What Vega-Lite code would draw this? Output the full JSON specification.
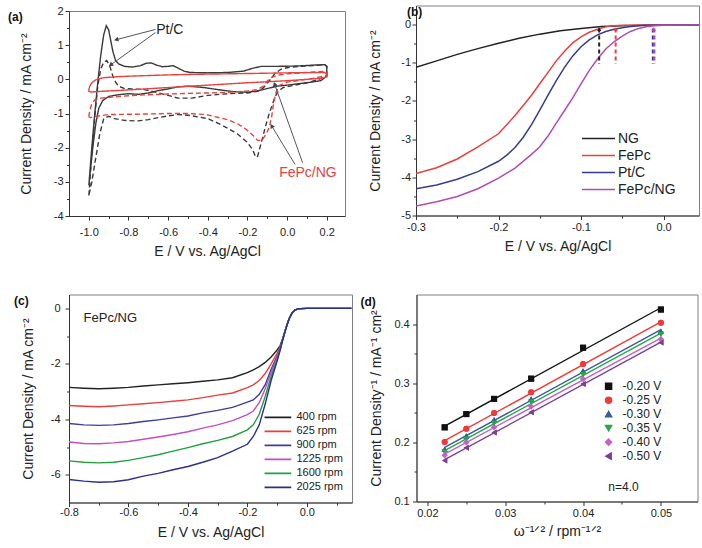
{
"$schema": "https://vega.github.io/schema/vega-lite/v6.json",
"padding": {"left": 7, "top": 4.5, "right": 0, "bottom": 0},
"background": "white",
"config": {
 "font": "Liberation Sans",
 "view": {"stroke": null},
 "axis": {"grid": false, "domainColor": "#333", "tickColor": "#333", "tickSize": 4, "labelFontSize": 11, "labelColor": "#222", "titleFontSize": 14, "titleFontWeight": "normal", "titleColor": "#222", "labelPadding": 3, "titlePadding": 8, "labelFlush": false, "labelOverlap": false},
 "legend": {"labelColor": "#222", "padding": 0}
},
"datasets": {
 "cv": [
  {"c":"PtN2","E":-1.0,"j":-3.1},{"c":"PtN2","E":-0.985,"j":-2.0},{"c":"PtN2","E":-0.97,"j":-1.0},{"c":"PtN2","E":-0.955,"j":-0.1},{"c":"PtN2","E":-0.94,"j":0.7},{"c":"PtN2","E":-0.925,"j":1.3},{"c":"PtN2","E":-0.912,"j":1.57},{"c":"PtN2","E":-0.9,"j":1.45},{"c":"PtN2","E":-0.89,"j":1.15},{"c":"PtN2","E":-0.878,"j":0.8},{"c":"PtN2","E":-0.865,"j":0.55},{"c":"PtN2","E":-0.85,"j":0.45},{"c":"PtN2","E":-0.82,"j":0.38},{"c":"PtN2","E":-0.78,"j":0.36},{"c":"PtN2","E":-0.74,"j":0.4},{"c":"PtN2","E":-0.71,"j":0.47},{"c":"PtN2","E":-0.685,"j":0.48},{"c":"PtN2","E":-0.66,"j":0.42},{"c":"PtN2","E":-0.63,"j":0.37},{"c":"PtN2","E":-0.6,"j":0.38},{"c":"PtN2","E":-0.575,"j":0.4},{"c":"PtN2","E":-0.55,"j":0.33},{"c":"PtN2","E":-0.52,"j":0.24},{"c":"PtN2","E":-0.49,"j":0.2},{"c":"PtN2","E":-0.4,"j":0.19},{"c":"PtN2","E":-0.3,"j":0.2},{"c":"PtN2","E":-0.22,"j":0.24},{"c":"PtN2","E":-0.17,"j":0.33},{"c":"PtN2","E":-0.13,"j":0.38},{"c":"PtN2","E":-0.05,"j":0.38},{"c":"PtN2","E":0.05,"j":0.39},{"c":"PtN2","E":0.15,"j":0.42},{"c":"PtN2","E":0.19,"j":0.43},{"c":"PtN2","E":0.2,"j":0.38},{"c":"PtN2","E":0.2,"j":0.1},{"c":"PtN2","E":0.17,"j":-0.04},{"c":"PtN2","E":0.1,"j":-0.1},{"c":"PtN2","E":0.0,"j":-0.17},{"c":"PtN2","E":-0.05,"j":-0.2},{"c":"PtN2","E":-0.1,"j":-0.27},{"c":"PtN2","E":-0.15,"j":-0.34},{"c":"PtN2","E":-0.2,"j":-0.38},{"c":"PtN2","E":-0.27,"j":-0.36},{"c":"PtN2","E":-0.35,"j":-0.3},{"c":"PtN2","E":-0.42,"j":-0.24},{"c":"PtN2","E":-0.5,"j":-0.2},{"c":"PtN2","E":-0.55,"j":-0.22},{"c":"PtN2","E":-0.6,"j":-0.28},{"c":"PtN2","E":-0.65,"j":-0.33},{"c":"PtN2","E":-0.7,"j":-0.4},{"c":"PtN2","E":-0.75,"j":-0.44},{"c":"PtN2","E":-0.8,"j":-0.42},{"c":"PtN2","E":-0.85,"j":-0.45},{"c":"PtN2","E":-0.9,"j":-0.5},{"c":"PtN2","E":-0.93,"j":-0.62},{"c":"PtN2","E":-0.95,"j":-0.85},{"c":"PtN2","E":-0.965,"j":-1.3},{"c":"PtN2","E":-0.98,"j":-2.0},{"c":"PtN2","E":-1.0,"j":-3.1},
  {"c":"PtO2","E":-1.0,"j":-3.4},{"c":"PtO2","E":-0.985,"j":-2.2},{"c":"PtO2","E":-0.97,"j":-1.1},{"c":"PtO2","E":-0.955,"j":-0.2},{"c":"PtO2","E":-0.94,"j":0.3},{"c":"PtO2","E":-0.925,"j":0.5},{"c":"PtO2","E":-0.91,"j":0.55},{"c":"PtO2","E":-0.895,"j":0.4},{"c":"PtO2","E":-0.88,"j":0.12},{"c":"PtO2","E":-0.865,"j":-0.08},{"c":"PtO2","E":-0.85,"j":-0.2},{"c":"PtO2","E":-0.82,"j":-0.27},{"c":"PtO2","E":-0.78,"j":-0.28},{"c":"PtO2","E":-0.72,"j":-0.3},{"c":"PtO2","E":-0.66,"j":-0.38},{"c":"PtO2","E":-0.6,"j":-0.47},{"c":"PtO2","E":-0.55,"j":-0.55},{"c":"PtO2","E":-0.48,"j":-0.55},{"c":"PtO2","E":-0.4,"j":-0.47},{"c":"PtO2","E":-0.3,"j":-0.42},{"c":"PtO2","E":-0.2,"j":-0.4},{"c":"PtO2","E":-0.15,"j":-0.35},{"c":"PtO2","E":-0.12,"j":-0.25},{"c":"PtO2","E":-0.09,"j":-0.05},{"c":"PtO2","E":-0.06,"j":0.18},{"c":"PtO2","E":-0.03,"j":0.3},{"c":"PtO2","E":0.0,"j":0.34},{"c":"PtO2","E":0.06,"j":0.38},{"c":"PtO2","E":0.15,"j":0.41},{"c":"PtO2","E":0.19,"j":0.43},{"c":"PtO2","E":0.2,"j":0.38},{"c":"PtO2","E":0.2,"j":0.1},{"c":"PtO2","E":0.15,"j":-0.02},{"c":"PtO2","E":0.1,"j":-0.1},{"c":"PtO2","E":0.03,"j":-0.18},{"c":"PtO2","E":-0.02,"j":-0.24},{"c":"PtO2","E":-0.045,"j":-0.35},{"c":"PtO2","E":-0.06,"j":-0.5},{"c":"PtO2","E":-0.075,"j":-0.75},{"c":"PtO2","E":-0.09,"j":-1.0},{"c":"PtO2","E":-0.11,"j":-1.4},{"c":"PtO2","E":-0.13,"j":-1.85},{"c":"PtO2","E":-0.15,"j":-2.28},{"c":"PtO2","E":-0.16,"j":-2.25},{"c":"PtO2","E":-0.175,"j":-2.05},{"c":"PtO2","E":-0.2,"j":-1.85},{"c":"PtO2","E":-0.25,"j":-1.6},{"c":"PtO2","E":-0.3,"j":-1.43},{"c":"PtO2","E":-0.35,"j":-1.28},{"c":"PtO2","E":-0.4,"j":-1.15},{"c":"PtO2","E":-0.5,"j":-1.05},{"c":"PtO2","E":-0.55,"j":-1.03},{"c":"PtO2","E":-0.6,"j":-1.07},{"c":"PtO2","E":-0.65,"j":-1.12},{"c":"PtO2","E":-0.7,"j":-1.18},{"c":"PtO2","E":-0.76,"j":-1.22},{"c":"PtO2","E":-0.82,"j":-1.2},{"c":"PtO2","E":-0.87,"j":-1.15},{"c":"PtO2","E":-0.9,"j":-1.08},{"c":"PtO2","E":-0.925,"j":-1.15},{"c":"PtO2","E":-0.945,"j":-1.6},{"c":"PtO2","E":-0.965,"j":-2.3},{"c":"PtO2","E":-0.985,"j":-3.0},{"c":"PtO2","E":-1.0,"j":-3.4},
  {"c":"FeN2","E":-1.0,"j":-0.3},{"c":"FeN2","E":-0.995,"j":-0.2},{"c":"FeN2","E":-0.985,"j":-0.1},{"c":"FeN2","E":-0.97,"j":-0.03},{"c":"FeN2","E":-0.95,"j":0.02},{"c":"FeN2","E":-0.92,"j":0.05},{"c":"FeN2","E":-0.85,"j":0.08},{"c":"FeN2","E":-0.76,"j":0.1},{"c":"FeN2","E":-0.6,"j":0.13},{"c":"FeN2","E":-0.43,"j":0.15},{"c":"FeN2","E":-0.2,"j":0.17},{"c":"FeN2","E":0.0,"j":0.19},{"c":"FeN2","E":0.15,"j":0.2},{"c":"FeN2","E":0.19,"j":0.2},{"c":"FeN2","E":0.2,"j":0.15},{"c":"FeN2","E":0.2,"j":0.07},{"c":"FeN2","E":0.17,"j":0.03},{"c":"FeN2","E":0.1,"j":0.0},{"c":"FeN2","E":0.0,"j":-0.04},{"c":"FeN2","E":-0.2,"j":-0.1},{"c":"FeN2","E":-0.43,"j":-0.18},{"c":"FeN2","E":-0.6,"j":-0.24},{"c":"FeN2","E":-0.8,"j":-0.31},{"c":"FeN2","E":-0.9,"j":-0.34},{"c":"FeN2","E":-0.96,"j":-0.36},{"c":"FeN2","E":-0.99,"j":-0.37},{"c":"FeN2","E":-1.0,"j":-0.35},{"c":"FeN2","E":-1.0,"j":-0.3},
  {"c":"FeO2","E":-1.0,"j":-1.1},{"c":"FeO2","E":-0.995,"j":-0.9},{"c":"FeO2","E":-0.985,"j":-0.72},{"c":"FeO2","E":-0.97,"j":-0.6},{"c":"FeO2","E":-0.94,"j":-0.55},{"c":"FeO2","E":-0.88,"j":-0.52},{"c":"FeO2","E":-0.8,"j":-0.48},{"c":"FeO2","E":-0.7,"j":-0.45},{"c":"FeO2","E":-0.6,"j":-0.43},{"c":"FeO2","E":-0.5,"j":-0.41},{"c":"FeO2","E":-0.4,"j":-0.4},{"c":"FeO2","E":-0.3,"j":-0.38},{"c":"FeO2","E":-0.2,"j":-0.34},{"c":"FeO2","E":-0.15,"j":-0.3},{"c":"FeO2","E":-0.12,"j":-0.2},{"c":"FeO2","E":-0.1,"j":-0.05},{"c":"FeO2","E":-0.08,"j":0.05},{"c":"FeO2","E":-0.05,"j":0.12},{"c":"FeO2","E":0.0,"j":0.16},{"c":"FeO2","E":0.1,"j":0.2},{"c":"FeO2","E":0.18,"j":0.23},{"c":"FeO2","E":0.2,"j":0.2},{"c":"FeO2","E":0.2,"j":0.12},{"c":"FeO2","E":0.15,"j":0.05},{"c":"FeO2","E":0.1,"j":0.0},{"c":"FeO2","E":0.0,"j":-0.08},{"c":"FeO2","E":-0.04,"j":-0.18},{"c":"FeO2","E":-0.057,"j":-0.4},{"c":"FeO2","E":-0.068,"j":-0.7},{"c":"FeO2","E":-0.078,"j":-1.1},{"c":"FeO2","E":-0.09,"j":-1.4},{"c":"FeO2","E":-0.107,"j":-1.62},{"c":"FeO2","E":-0.13,"j":-1.8},{"c":"FeO2","E":-0.15,"j":-1.78},{"c":"FeO2","E":-0.17,"j":-1.65},{"c":"FeO2","E":-0.207,"j":-1.46},{"c":"FeO2","E":-0.25,"j":-1.3},{"c":"FeO2","E":-0.3,"j":-1.18},{"c":"FeO2","E":-0.41,"j":-1.03},{"c":"FeO2","E":-0.5,"j":-1.0},{"c":"FeO2","E":-0.6,"j":-1.0},{"c":"FeO2","E":-0.76,"j":-1.02},{"c":"FeO2","E":-0.9,"j":-1.03},{"c":"FeO2","E":-0.96,"j":-1.08},{"c":"FeO2","E":-0.99,"j":-1.12},{"c":"FeO2","E":-1.0,"j":-1.1}
 ],
 "lsv": [
  {"s":"NG","E":-0.3,"j":-1.12},{"s":"NG","E":-0.275,"j":-0.95},{"s":"NG","E":-0.25,"j":-0.78},{"s":"NG","E":-0.225,"j":-0.63},{"s":"NG","E":-0.2,"j":-0.49},{"s":"NG","E":-0.175,"j":-0.36},{"s":"NG","E":-0.15,"j":-0.25},{"s":"NG","E":-0.125,"j":-0.16},{"s":"NG","E":-0.1,"j":-0.1},{"s":"NG","E":-0.075,"j":-0.05},{"s":"NG","E":-0.05,"j":-0.03},{"s":"NG","E":-0.025,"j":-0.02},{"s":"NG","E":0,"j":-0.02},{"s":"NG","E":0.05,"j":-0.02},
  {"s":"FePc","E":-0.3,"j":-3.9},{"s":"FePc","E":-0.275,"j":-3.75},{"s":"FePc","E":-0.25,"j":-3.52},{"s":"FePc","E":-0.225,"j":-3.2},{"s":"FePc","E":-0.2,"j":-2.86},{"s":"FePc","E":-0.18,"j":-2.38},{"s":"FePc","E":-0.17,"j":-2.12},{"s":"FePc","E":-0.16,"j":-1.85},{"s":"FePc","E":-0.15,"j":-1.55},{"s":"FePc","E":-0.14,"j":-1.25},{"s":"FePc","E":-0.13,"j":-0.95},{"s":"FePc","E":-0.12,"j":-0.7},{"s":"FePc","E":-0.11,"j":-0.48},{"s":"FePc","E":-0.1,"j":-0.32},{"s":"FePc","E":-0.09,"j":-0.2},{"s":"FePc","E":-0.08,"j":-0.12},{"s":"FePc","E":-0.07,"j":-0.06},{"s":"FePc","E":-0.06,"j":-0.03},{"s":"FePc","E":-0.05,"j":-0.02},{"s":"FePc","E":0.05,"j":-0.01},
  {"s":"Pt/C","E":-0.3,"j":-4.3},{"s":"Pt/C","E":-0.275,"j":-4.2},{"s":"Pt/C","E":-0.25,"j":-4.05},{"s":"Pt/C","E":-0.225,"j":-3.85},{"s":"Pt/C","E":-0.2,"j":-3.58},{"s":"Pt/C","E":-0.19,"j":-3.42},{"s":"Pt/C","E":-0.18,"j":-3.22},{"s":"Pt/C","E":-0.17,"j":-2.95},{"s":"Pt/C","E":-0.16,"j":-2.62},{"s":"Pt/C","E":-0.15,"j":-2.24},{"s":"Pt/C","E":-0.14,"j":-1.85},{"s":"Pt/C","E":-0.13,"j":-1.47},{"s":"Pt/C","E":-0.12,"j":-1.12},{"s":"Pt/C","E":-0.11,"j":-0.82},{"s":"Pt/C","E":-0.1,"j":-0.58},{"s":"Pt/C","E":-0.09,"j":-0.4},{"s":"Pt/C","E":-0.08,"j":-0.27},{"s":"Pt/C","E":-0.07,"j":-0.18},{"s":"Pt/C","E":-0.06,"j":-0.12},{"s":"Pt/C","E":-0.05,"j":-0.08},{"s":"Pt/C","E":-0.04,"j":-0.05},{"s":"Pt/C","E":-0.03,"j":-0.03},{"s":"Pt/C","E":-0.02,"j":-0.02},{"s":"Pt/C","E":0.05,"j":-0.01},
  {"s":"FePc/NG","E":-0.3,"j":-4.75},{"s":"FePc/NG","E":-0.275,"j":-4.64},{"s":"FePc/NG","E":-0.25,"j":-4.5},{"s":"FePc/NG","E":-0.225,"j":-4.3},{"s":"FePc/NG","E":-0.2,"j":-4.02},{"s":"FePc/NG","E":-0.18,"j":-3.76},{"s":"FePc/NG","E":-0.16,"j":-3.4},{"s":"FePc/NG","E":-0.15,"j":-3.2},{"s":"FePc/NG","E":-0.14,"j":-2.92},{"s":"FePc/NG","E":-0.13,"j":-2.58},{"s":"FePc/NG","E":-0.12,"j":-2.25},{"s":"FePc/NG","E":-0.11,"j":-1.92},{"s":"FePc/NG","E":-0.1,"j":-1.55},{"s":"FePc/NG","E":-0.09,"j":-1.2},{"s":"FePc/NG","E":-0.08,"j":-0.9},{"s":"FePc/NG","E":-0.07,"j":-0.64},{"s":"FePc/NG","E":-0.06,"j":-0.45},{"s":"FePc/NG","E":-0.05,"j":-0.3},{"s":"FePc/NG","E":-0.04,"j":-0.18},{"s":"FePc/NG","E":-0.03,"j":-0.1},{"s":"FePc/NG","E":-0.02,"j":-0.05},{"s":"FePc/NG","E":-0.01,"j":-0.03},{"s":"FePc/NG","E":0,"j":-0.02},{"s":"FePc/NG","E":0.05,"j":-0.01}
 ],
 "rde": [
  {"r":"400 rpm","E":-0.8,"j":-2.85},{"r":"400 rpm","E":-0.75,"j":-2.88},{"r":"400 rpm","E":-0.7,"j":-2.9},{"r":"400 rpm","E":-0.65,"j":-2.88},{"r":"400 rpm","E":-0.6,"j":-2.85},{"r":"400 rpm","E":-0.55,"j":-2.8},{"r":"400 rpm","E":-0.5,"j":-2.76},{"r":"400 rpm","E":-0.45,"j":-2.72},{"r":"400 rpm","E":-0.4,"j":-2.68},{"r":"400 rpm","E":-0.35,"j":-2.63},{"r":"400 rpm","E":-0.3,"j":-2.58},{"r":"400 rpm","E":-0.25,"j":-2.5},{"r":"400 rpm","E":-0.2,"j":-2.32},{"r":"400 rpm","E":-0.18,"j":-2.22},{"r":"400 rpm","E":-0.16,"j":-2.1},{"r":"400 rpm","E":-0.14,"j":-1.95},{"r":"400 rpm","E":-0.12,"j":-1.75},{"r":"400 rpm","E":-0.1,"j":-1.5},{"r":"400 rpm","E":-0.09,"j":-1.35},{"r":"400 rpm","E":-0.08,"j":-1.05},{"r":"400 rpm","E":-0.07,"j":-0.7},{"r":"400 rpm","E":-0.06,"j":-0.38},{"r":"400 rpm","E":-0.05,"j":-0.17},{"r":"400 rpm","E":-0.04,"j":-0.06},{"r":"400 rpm","E":-0.03,"j":-0.02},{"r":"400 rpm","E":-0.02,"j":-0.01},{"r":"400 rpm","E":0,"j":0},{"r":"400 rpm","E":0.15,"j":0},
  {"r":"625 rpm","E":-0.8,"j":-3.5},{"r":"625 rpm","E":-0.75,"j":-3.53},{"r":"625 rpm","E":-0.7,"j":-3.55},{"r":"625 rpm","E":-0.65,"j":-3.52},{"r":"625 rpm","E":-0.6,"j":-3.48},{"r":"625 rpm","E":-0.55,"j":-3.44},{"r":"625 rpm","E":-0.5,"j":-3.4},{"r":"625 rpm","E":-0.45,"j":-3.35},{"r":"625 rpm","E":-0.4,"j":-3.3},{"r":"625 rpm","E":-0.35,"j":-3.22},{"r":"625 rpm","E":-0.3,"j":-3.13},{"r":"625 rpm","E":-0.25,"j":-3.05},{"r":"625 rpm","E":-0.2,"j":-2.86},{"r":"625 rpm","E":-0.18,"j":-2.76},{"r":"625 rpm","E":-0.16,"j":-2.6},{"r":"625 rpm","E":-0.14,"j":-2.35},{"r":"625 rpm","E":-0.12,"j":-2.0},{"r":"625 rpm","E":-0.1,"j":-1.62},{"r":"625 rpm","E":-0.09,"j":-1.4},{"r":"625 rpm","E":-0.08,"j":-1.06},{"r":"625 rpm","E":-0.07,"j":-0.7},{"r":"625 rpm","E":-0.06,"j":-0.38},{"r":"625 rpm","E":-0.05,"j":-0.17},{"r":"625 rpm","E":-0.04,"j":-0.06},{"r":"625 rpm","E":-0.03,"j":-0.02},{"r":"625 rpm","E":-0.02,"j":-0.01},{"r":"625 rpm","E":0,"j":0},{"r":"625 rpm","E":0.15,"j":0},
  {"r":"900 rpm","E":-0.8,"j":-4.15},{"r":"900 rpm","E":-0.75,"j":-4.2},{"r":"900 rpm","E":-0.7,"j":-4.22},{"r":"900 rpm","E":-0.65,"j":-4.2},{"r":"900 rpm","E":-0.6,"j":-4.15},{"r":"900 rpm","E":-0.55,"j":-4.08},{"r":"900 rpm","E":-0.5,"j":-4.02},{"r":"900 rpm","E":-0.45,"j":-3.95},{"r":"900 rpm","E":-0.4,"j":-3.88},{"r":"900 rpm","E":-0.35,"j":-3.77},{"r":"900 rpm","E":-0.3,"j":-3.68},{"r":"900 rpm","E":-0.25,"j":-3.57},{"r":"900 rpm","E":-0.2,"j":-3.38},{"r":"900 rpm","E":-0.18,"j":-3.3},{"r":"900 rpm","E":-0.16,"j":-3.1},{"r":"900 rpm","E":-0.14,"j":-2.75},{"r":"900 rpm","E":-0.12,"j":-2.2},{"r":"900 rpm","E":-0.1,"j":-1.72},{"r":"900 rpm","E":-0.09,"j":-1.44},{"r":"900 rpm","E":-0.08,"j":-1.07},{"r":"900 rpm","E":-0.07,"j":-0.71},{"r":"900 rpm","E":-0.06,"j":-0.38},{"r":"900 rpm","E":-0.05,"j":-0.17},{"r":"900 rpm","E":-0.04,"j":-0.06},{"r":"900 rpm","E":-0.03,"j":-0.02},{"r":"900 rpm","E":-0.02,"j":-0.01},{"r":"900 rpm","E":0,"j":0},{"r":"900 rpm","E":0.15,"j":0},
  {"r":"1225 rpm","E":-0.8,"j":-4.82},{"r":"1225 rpm","E":-0.75,"j":-4.87},{"r":"1225 rpm","E":-0.7,"j":-4.88},{"r":"1225 rpm","E":-0.65,"j":-4.85},{"r":"1225 rpm","E":-0.6,"j":-4.8},{"r":"1225 rpm","E":-0.55,"j":-4.72},{"r":"1225 rpm","E":-0.5,"j":-4.64},{"r":"1225 rpm","E":-0.45,"j":-4.55},{"r":"1225 rpm","E":-0.4,"j":-4.45},{"r":"1225 rpm","E":-0.35,"j":-4.32},{"r":"1225 rpm","E":-0.3,"j":-4.2},{"r":"1225 rpm","E":-0.25,"j":-4.05},{"r":"1225 rpm","E":-0.2,"j":-3.83},{"r":"1225 rpm","E":-0.18,"j":-3.7},{"r":"1225 rpm","E":-0.16,"j":-3.4},{"r":"1225 rpm","E":-0.14,"j":-2.9},{"r":"1225 rpm","E":-0.12,"j":-2.3},{"r":"1225 rpm","E":-0.1,"j":-1.75},{"r":"1225 rpm","E":-0.09,"j":-1.46},{"r":"1225 rpm","E":-0.08,"j":-1.08},{"r":"1225 rpm","E":-0.07,"j":-0.71},{"r":"1225 rpm","E":-0.06,"j":-0.38},{"r":"1225 rpm","E":-0.05,"j":-0.17},{"r":"1225 rpm","E":-0.04,"j":-0.06},{"r":"1225 rpm","E":-0.03,"j":-0.02},{"r":"1225 rpm","E":-0.02,"j":-0.01},{"r":"1225 rpm","E":0,"j":0},{"r":"1225 rpm","E":0.15,"j":0},
  {"r":"1600 rpm","E":-0.8,"j":-5.5},{"r":"1600 rpm","E":-0.75,"j":-5.55},{"r":"1600 rpm","E":-0.7,"j":-5.57},{"r":"1600 rpm","E":-0.65,"j":-5.55},{"r":"1600 rpm","E":-0.6,"j":-5.48},{"r":"1600 rpm","E":-0.55,"j":-5.38},{"r":"1600 rpm","E":-0.5,"j":-5.28},{"r":"1600 rpm","E":-0.45,"j":-5.15},{"r":"1600 rpm","E":-0.4,"j":-5.02},{"r":"1600 rpm","E":-0.35,"j":-4.88},{"r":"1600 rpm","E":-0.3,"j":-4.76},{"r":"1600 rpm","E":-0.25,"j":-4.62},{"r":"1600 rpm","E":-0.2,"j":-4.38},{"r":"1600 rpm","E":-0.18,"j":-4.2},{"r":"1600 rpm","E":-0.16,"j":-3.82},{"r":"1600 rpm","E":-0.14,"j":-3.18},{"r":"1600 rpm","E":-0.12,"j":-2.45},{"r":"1600 rpm","E":-0.1,"j":-1.85},{"r":"1600 rpm","E":-0.09,"j":-1.5},{"r":"1600 rpm","E":-0.08,"j":-1.09},{"r":"1600 rpm","E":-0.07,"j":-0.72},{"r":"1600 rpm","E":-0.06,"j":-0.39},{"r":"1600 rpm","E":-0.05,"j":-0.17},{"r":"1600 rpm","E":-0.04,"j":-0.06},{"r":"1600 rpm","E":-0.03,"j":-0.02},{"r":"1600 rpm","E":-0.02,"j":-0.01},{"r":"1600 rpm","E":0,"j":0},{"r":"1600 rpm","E":0.15,"j":0},
  {"r":"2025 rpm","E":-0.8,"j":-6.17},{"r":"2025 rpm","E":-0.75,"j":-6.23},{"r":"2025 rpm","E":-0.7,"j":-6.27},{"r":"2025 rpm","E":-0.65,"j":-6.25},{"r":"2025 rpm","E":-0.6,"j":-6.18},{"r":"2025 rpm","E":-0.55,"j":-6.05},{"r":"2025 rpm","E":-0.5,"j":-5.95},{"r":"2025 rpm","E":-0.45,"j":-5.82},{"r":"2025 rpm","E":-0.4,"j":-5.7},{"r":"2025 rpm","E":-0.35,"j":-5.55},{"r":"2025 rpm","E":-0.3,"j":-5.38},{"r":"2025 rpm","E":-0.25,"j":-5.15},{"r":"2025 rpm","E":-0.2,"j":-4.9},{"r":"2025 rpm","E":-0.18,"j":-4.62},{"r":"2025 rpm","E":-0.16,"j":-4.2},{"r":"2025 rpm","E":-0.14,"j":-3.45},{"r":"2025 rpm","E":-0.12,"j":-2.6},{"r":"2025 rpm","E":-0.1,"j":-1.9},{"r":"2025 rpm","E":-0.09,"j":-1.52},{"r":"2025 rpm","E":-0.08,"j":-1.1},{"r":"2025 rpm","E":-0.07,"j":-0.72},{"r":"2025 rpm","E":-0.06,"j":-0.39},{"r":"2025 rpm","E":-0.05,"j":-0.17},{"r":"2025 rpm","E":-0.04,"j":-0.06},{"r":"2025 rpm","E":-0.03,"j":-0.02},{"r":"2025 rpm","E":-0.02,"j":-0.01},{"r":"2025 rpm","E":0,"j":0},{"r":"2025 rpm","E":0.15,"j":0}
 ],
 "kl": [
  {"p":"-0.20 V","w":0.02222,"inv":0.2254},{"p":"-0.20 V","w":0.025,"inv":0.2478},{"p":"-0.20 V","w":0.02857,"inv":0.2735},{"p":"-0.20 V","w":0.03333,"inv":0.3077},{"p":"-0.20 V","w":0.04,"inv":0.360},{"p":"-0.20 V","w":0.05,"inv":0.4246},
  {"p":"-0.25 V","w":0.02222,"inv":0.2008},{"p":"-0.25 V","w":0.025,"inv":0.2232},{"p":"-0.25 V","w":0.02857,"inv":0.2495},{"p":"-0.25 V","w":0.03333,"inv":0.2847},{"p":"-0.25 V","w":0.04,"inv":0.3323},{"p":"-0.25 V","w":0.05,"inv":0.4022},
  {"p":"-0.30 V","w":0.02222,"inv":0.1885},{"p":"-0.30 V","w":0.025,"inv":0.2109},{"p":"-0.30 V","w":0.02857,"inv":0.2383},{"p":"-0.30 V","w":0.03333,"inv":0.2735},{"p":"-0.30 V","w":0.04,"inv":0.3211},{"p":"-0.30 V","w":0.05,"inv":0.3882},
  {"p":"-0.35 V","w":0.02222,"inv":0.184},{"p":"-0.35 V","w":0.025,"inv":0.2053},{"p":"-0.35 V","w":0.02857,"inv":0.2321},{"p":"-0.35 V","w":0.03333,"inv":0.2679},{"p":"-0.35 V","w":0.04,"inv":0.3144},{"p":"-0.35 V","w":0.05,"inv":0.3827},
  {"p":"-0.40 V","w":0.02222,"inv":0.1784},{"p":"-0.40 V","w":0.025,"inv":0.1997},{"p":"-0.40 V","w":0.02857,"inv":0.2254},{"p":"-0.40 V","w":0.03333,"inv":0.2607},{"p":"-0.40 V","w":0.04,"inv":0.3071},{"p":"-0.40 V","w":0.05,"inv":0.3743},
  {"p":"-0.50 V","w":0.02222,"inv":0.1694},{"p":"-0.50 V","w":0.025,"inv":0.1907},{"p":"-0.50 V","w":0.02857,"inv":0.2165},{"p":"-0.50 V","w":0.03333,"inv":0.2511},{"p":"-0.50 V","w":0.04,"inv":0.2987},{"p":"-0.50 V","w":0.05,"inv":0.3687}
 ]
},
"spacing": 35,
"resolve": {"scale": {"color": "independent", "stroke": "independent", "shape": "independent", "strokeDash": "independent"}, "legend": {"color": "independent", "stroke": "independent", "shape": "independent", "strokeDash": "independent"}},
"vconcat": [
 {
  "hconcat": [
   {
    "vconcat": [
     {"width": 1, "height": 1, "data": {"values": []}, "mark": "point", "encoding": {}},
     {
      "width": 276, "height": 205,
      "view": {"stroke": "#808080"},
      "resolve": {"axis": {"x": "independent", "y": "independent"}},
      "layer": [
       {
        "data": {"name": "cv"},
        "mark": {"type": "line", "strokeWidth": 1.4},
        "encoding": {
         "x": {"field": "E", "type": "quantitative", "scale": {"domain": [-1.1, 0.292], "nice": false, "zero": false},
               "axis": {"values": [-1, -0.8, -0.6, -0.4, -0.2, 0, 0.2], "title": "E / V vs. Ag/AgCl", "labelPadding": 6, "titlePadding": 7, "labelExpr": "datum.value < 0 ? '-' + format(-datum.value, '.1f') : format(datum.value, '.1f')"}},
         "y": {"field": "j", "type": "quantitative", "scale": {"domain": [-4, 2], "nice": false, "zero": false},
               "axis": {"values": [-4, -3, -2, -1, 0, 1, 2], "title": "Current Density / mA cm⁻²", "labelPadding": 2, "titlePadding": 19.5, "labelExpr": "datum.value < 0 ? '-' + format(-datum.value, 'd') : format(datum.value, 'd')"}},
         "color": {"field": "c", "type": "nominal", "scale": {"domain": ["PtN2", "PtO2", "FeN2", "FeO2"], "range": ["#3a3a3a", "#3a3a3a", "#e8413e", "#e8413e"]}, "legend": null},
         "strokeDash": {"field": "c", "type": "nominal", "scale": {"domain": ["PtN2", "PtO2", "FeN2", "FeO2"], "range": [[1, 0], [5, 3], [1, 0], [5, 3]]}, "legend": null},
         "order": {"value": null}
        }
       },
       {
        "data": {"values": [
         {"x1": -0.664, "y1": 1.46, "x2": -0.862, "y2": 1.16},
         {"x1": -0.664, "y1": 1.37, "x2": -0.89, "y2": 0.42},
         {"x1": 0.04, "y1": -2.49, "x2": -0.078, "y2": -1.36},
         {"x1": 0.078, "y1": -2.44, "x2": -0.063, "y2": -0.14}
        ]},
        "mark": {"type": "rule", "color": "#555", "strokeWidth": 1},
        "encoding": {
         "x": {"field": "x1", "type": "quantitative", "axis": null},
         "y": {"field": "y1", "type": "quantitative", "axis": null},
         "x2": {"field": "x2"}, "y2": {"field": "y2"}
        }
       },
       {"data": {"values": [{"x": -0.862, "y": 1.16}]}, "mark": {"type": "point", "shape": "triangle-up", "filled": true, "color": "#444", "opacity": 1, "size": 26, "angle": 255},
        "encoding": {"x": {"field": "x", "type": "quantitative", "axis": null}, "y": {"field": "y", "type": "quantitative", "axis": null}}},
       {"data": {"values": [{"x": -0.89, "y": 0.42}]}, "mark": {"type": "point", "shape": "triangle-up", "filled": true, "color": "#444", "opacity": 1, "size": 26, "angle": 234},
        "encoding": {"x": {"field": "x", "type": "quantitative", "axis": null}, "y": {"field": "y", "type": "quantitative", "axis": null}}},
       {"data": {"values": [{"x": -0.078, "y": -1.36}]}, "mark": {"type": "point", "shape": "triangle-up", "filled": true, "color": "#444", "opacity": 1, "size": 26, "angle": 329},
        "encoding": {"x": {"field": "x", "type": "quantitative", "axis": null}, "y": {"field": "y", "type": "quantitative", "axis": null}}},
       {"data": {"values": [{"x": -0.063, "y": -0.14}]}, "mark": {"type": "point", "shape": "triangle-up", "filled": true, "color": "#444", "opacity": 1, "size": 26, "angle": 340},
        "encoding": {"x": {"field": "x", "type": "quantitative", "axis": null}, "y": {"field": "y", "type": "quantitative", "axis": null}}},
       {
        "data": {"values": [{"x": -0.66, "y": 1.44, "t": "Pt/C"}]},
        "mark": {"type": "text", "align": "left", "baseline": "middle", "fontSize": 14, "color": "#222"},
        "encoding": {
         "x": {"field": "x", "type": "quantitative", "axis": {"orient": "bottom", "values": [-0.9, -0.7, -0.5, -0.3, -0.1, 0.1], "labels": false, "domain": false, "tickSize": 2.5, "title": null}},
         "y": {"field": "y", "type": "quantitative", "axis": {"orient": "left", "values": [-3.5, -2.5, -1.5, -0.5, 0.5, 1.5], "labels": false, "domain": false, "tickSize": 2.5, "title": null}},
         "text": {"field": "t"}
        }
       },
       {
        "data": {"values": [{"x": -0.04, "y": -2.74, "t": "FePc/NG"}]},
        "mark": {"type": "text", "align": "left", "baseline": "middle", "fontSize": 14, "color": "#e8413e"},
        "encoding": {
         "x": {"field": "x", "type": "quantitative", "axis": null},
         "y": {"field": "y", "type": "quantitative", "axis": null},
         "text": {"field": "t"}
        }
       },
       {
        "data": {"values": [{"x": -1.4076, "y": 1.824, "t": "(a)"}]},
        "mark": {"type": "text", "align": "left", "baseline": "middle", "fontSize": 12, "fontWeight": "bold", "color": "#111"},
        "encoding": {
         "x": {"field": "x", "type": "quantitative", "axis": null},
         "y": {"field": "y", "type": "quantitative", "axis": null},
         "text": {"field": "t"}
        }
       }
      ]
     }
    ],
    "spacing": -2.5
   },
   {
    "width": 283, "height": 210,
    "view": {"stroke": "#808080"},
    "resolve": {"axis": {"x": "independent", "y": "independent"}},
    "layer": [
     {
      "data": {"name": "lsv"},
      "mark": {"type": "line", "strokeWidth": 1.5, "clip": true},
      "encoding": {
       "x": {"field": "E", "type": "quantitative", "scale": {"domain": [-0.3, 0.043], "nice": false, "zero": false},
             "axis": {"values": [-0.3, -0.2, -0.1, 0], "title": "E / V vs. Ag/AgCl", "labelPadding": 2, "titlePadding": 7, "labelExpr": "datum.value < 0 ? '-' + format(-datum.value, '.1f') : format(datum.value, '.1f')"}},
       "y": {"field": "j", "type": "quantitative", "scale": {"domain": [-5, 0.5], "nice": false, "zero": false},
             "axis": {"values": [-5, -4, -3, -2, -1, 0], "title": "Current Density / mA cm⁻²", "labelPadding": 1.5, "titlePadding": 18.5, "labelExpr": "datum.value < 0 ? '-' + format(-datum.value, 'd') : format(datum.value, 'd')"}},
       "color": {"field": "s", "type": "nominal", "scale": {"domain": ["NG", "FePc", "Pt/C", "FePc/NG"], "range": ["#222222", "#e8413e", "#373b8f", "#b04db3"]},
                 "legend": {"orient": "none", "legendX": 165, "legendY": 125, "title": null, "symbolType": "stroke", "symbolStrokeWidth": 1.6, "symbolSize": 1089, "labelFontSize": 14, "clipHeight": 16.1, "rowPadding": 0, "labelOffset": 2}}
      }
     },
     {
      "data": {"values": [
       {"s": "NG", "E": -0.078, "y1": -0.1, "y2": -1.03},
       {"s": "FePc", "E": -0.058, "y1": -0.1, "y2": -1.03},
       {"s": "Pt/C", "E": -0.013, "y1": -0.1, "y2": -1.03},
       {"s": "FePc/NG", "E": -0.011, "y1": -0.1, "y2": -1.03}
      ]},
      "mark": {"type": "rule", "strokeWidth": 2, "strokeDash": [4, 3]},
      "encoding": {
       "x": {"field": "E", "type": "quantitative", "axis": {"orient": "bottom", "values": [-0.25, -0.15, -0.05], "labels": false, "domain": false, "tickSize": 2.5, "title": null}},
       "y": {"field": "y1", "type": "quantitative", "axis": {"orient": "left", "values": [-4.5, -3.5, -2.5, -1.5, -0.5], "labels": false, "domain": false, "tickSize": 2.5, "title": null}},
       "y2": {"field": "y2"},
       "color": {"field": "s", "type": "nominal", "legend": null}
      }
     },
     {
      "data": {"values": [
       {"s": "NG", "E": -0.078, "y": -0.12},
       {"s": "FePc", "E": -0.058, "y": -0.12},
       {"s": "FePc/NG", "E": -0.012, "y": -0.12}
      ]},
      "mark": {"type": "point", "shape": "triangle-up", "filled": true, "opacity": 1, "size": 18},
      "encoding": {
       "x": {"field": "E", "type": "quantitative", "axis": null},
       "y": {"field": "y", "type": "quantitative", "axis": null},
       "color": {"field": "s", "type": "nominal", "legend": null}
      }
     },
     {
      "data": {"values": [{"x": -0.3109, "y": 0.33, "t": "(b)"}]},
      "mark": {"type": "text", "align": "left", "baseline": "middle", "fontSize": 12, "fontWeight": "bold", "color": "#111"},
      "encoding": {
       "x": {"field": "x", "type": "quantitative", "axis": null},
       "y": {"field": "y", "type": "quantitative", "axis": null},
       "text": {"field": "t"}
      }
     }
    ]
   }
  ],
  "spacing": 21,
  "resolve": {"scale": {"color": "independent", "stroke": "independent", "shape": "independent", "strokeDash": "independent"}, "legend": {"color": "independent", "stroke": "independent", "shape": "independent", "strokeDash": "independent"}}
 },
 {
  "hconcat": [
   {
    "width": 283, "height": 208,
    "view": {"stroke": "#808080"},
    "resolve": {"axis": {"x": "independent", "y": "independent"}},
    "layer": [
     {
      "data": {"name": "rde"},
      "mark": {"type": "line", "strokeWidth": 1.4},
      "encoding": {
       "x": {"field": "E", "type": "quantitative", "scale": {"domain": [-0.8, 0.152], "nice": false, "zero": false},
             "axis": {"values": [-0.8, -0.6, -0.4, -0.2, 0], "title": "E / V vs. Ag/AgCl", "labelPadding": 0, "titlePadding": 7.5, "labelExpr": "datum.value < 0 ? '-' + format(-datum.value, '.1f') : format(datum.value, '.1f')"}},
       "y": {"field": "j", "type": "quantitative", "scale": {"domain": [-7, 0.5], "nice": false, "zero": false},
             "axis": {"values": [-6, -4, -2, 0], "title": "Current Density / mA cm⁻²", "labelPadding": 5, "titlePadding": 14.8, "labelExpr": "datum.value < 0 ? '-' + format(-datum.value, 'd') : format(datum.value, 'd')"}},
       "color": {"field": "r", "type": "nominal", "scale": {"domain": ["400 rpm", "625 rpm", "900 rpm", "1225 rpm", "1600 rpm", "2025 rpm"], "range": ["#222222", "#e8403c", "#3c3f96", "#c050c0", "#20a040", "#2a2f8c"]},
                 "legend": {"orient": "none", "legendX": 194.4, "legendY": 116, "title": null, "symbolType": "stroke", "symbolStrokeWidth": 1.6, "symbolSize": 713, "labelFontSize": 11, "clipHeight": 13.7, "rowPadding": 0, "labelOffset": 4, "labelExpr": "length(datum.label) < 8 ? '\u00a0\u00a0' + datum.label : datum.label"}}
      }
     },
     {
      "data": {"values": [{"x": -0.751, "y": -0.36, "t": "FePc/NG"}]},
      "mark": {"type": "text", "align": "left", "baseline": "middle", "fontSize": 13, "color": "#222"},
      "encoding": {
       "x": {"field": "x", "type": "quantitative", "axis": {"orient": "bottom", "values": [-0.7, -0.5, -0.3, -0.1, 0.1], "labels": false, "domain": false, "tickSize": 2.5, "title": null}},
       "y": {"field": "y", "type": "quantitative", "axis": {"orient": "left", "values": [-5, -3, -1], "labels": false, "domain": false, "tickSize": 2.5, "title": null}},
       "text": {"field": "t"}
      }
     },
     {
      "data": {"values": [{"x": -0.985, "y": 0.248, "t": "(c)"}]},
      "mark": {"type": "text", "align": "left", "baseline": "middle", "fontSize": 12, "fontWeight": "bold", "color": "#111"},
      "encoding": {
       "x": {"field": "x", "type": "quantitative", "axis": null},
       "y": {"field": "y", "type": "quantitative", "axis": null},
       "text": {"field": "t"}
      }
     }
    ]
   },
   {
    "width": 281, "height": 207,
    "view": {"stroke": "#808080"},
    "resolve": {"axis": {"x": "independent", "y": "independent"}},
    "layer": [
     {
      "data": {"name": "kl"},
      "mark": {"type": "point", "filled": true, "opacity": 1, "size": 36},
      "encoding": {
       "x": {"field": "w", "type": "quantitative", "axis": null},
       "y": {"field": "inv", "type": "quantitative", "axis": null},
       "color": {"field": "p", "type": "nominal", "scale": {"domain": ["-0.20 V", "-0.25 V", "-0.30 V", "-0.35 V", "-0.40 V", "-0.50 V"], "range": ["#111111", "#f03a3a", "#3b5b9b", "#23a84a", "#c264c2", "#7b3f98"]},
                 "legend": {"orient": "none", "legendX": 186.1, "legendY": 84.7, "title": null, "labelFontSize": 12, "symbolSize": 36, "clipHeight": 13.9, "rowPadding": 0, "labelOffset": 8}},
       "shape": {"field": "p", "type": "nominal", "scale": {"domain": ["-0.20 V", "-0.25 V", "-0.30 V", "-0.35 V", "-0.40 V", "-0.50 V"], "range": ["square", "circle", "triangle-up", "triangle-down", "diamond", "triangle-left"]},
                 "legend": {"orient": "none", "legendX": 186.1, "legendY": 84.7, "title": null, "labelFontSize": 12, "symbolSize": 36, "clipHeight": 13.9, "rowPadding": 0, "labelOffset": 8}}
      }
     },
     {
      "data": {"name": "kl"},
      "transform": [{"regression": "inv", "on": "w", "groupby": ["p"], "extent": [0.02222, 0.05]}],
      "mark": {"type": "line", "strokeWidth": 1.4},
      "encoding": {
       "x": {"field": "w", "type": "quantitative", "scale": {"domain": [0.0186, 0.0547], "nice": false, "zero": false},
             "axis": {"values": [0.02, 0.03, 0.04, 0.05], "format": ".2f", "title": "ω⁻¹ᐟ² / rpm⁻¹ᐟ²", "labelPadding": 2, "titlePadding": 6}},
       "y": {"field": "inv", "type": "quantitative", "scale": {"domain": [0.1, 0.45], "nice": false, "zero": false},
             "axis": {"values": [0.1, 0.2, 0.3, 0.4], "format": ".1f", "title": "Current Density⁻¹ / mA⁻¹ cm²", "labelPadding": 3.3, "titlePadding": 10.5}},
       "stroke": {"field": "p", "type": "nominal", "scale": {"domain": ["-0.20 V", "-0.25 V", "-0.30 V", "-0.35 V", "-0.40 V", "-0.50 V"], "range": ["#111111", "#f03a3a", "#3b5b9b", "#23a84a", "#c264c2", "#7b3f98"]}, "legend": null}
      }
     },
     {
      "data": {"name": "kl"},
      "mark": {"type": "point", "filled": true, "opacity": 1, "size": 36},
      "encoding": {
       "x": {"field": "w", "type": "quantitative", "axis": null},
       "y": {"field": "inv", "type": "quantitative", "axis": null},
       "color": {"field": "p", "type": "nominal", "legend": null},
       "shape": {"field": "p", "type": "nominal", "legend": null}
      }
     },
     {
      "data": {"values": [{"x": 0.04324, "y": 0.1242, "t": "n=4.0"}]},
      "mark": {"type": "text", "align": "left", "baseline": "middle", "fontSize": 12, "color": "#222"},
      "encoding": {
       "x": {"field": "x", "type": "quantitative", "axis": {"orient": "bottom", "values": [0.025, 0.035, 0.045], "labels": false, "domain": false, "tickSize": 2.5, "title": null}},
       "y": {"field": "y", "type": "quantitative", "axis": {"orient": "left", "values": [0.15, 0.25, 0.35], "labels": false, "domain": false, "tickSize": 2.5, "title": null}},
       "text": {"field": "t"}
      }
     },
     {
      "data": {"values": [{"x": 0.0114, "y": 0.4365, "t": "(d)"}]},
      "mark": {"type": "text", "align": "left", "baseline": "middle", "fontSize": 12, "fontWeight": "bold", "color": "#111"},
      "encoding": {
       "x": {"field": "x", "type": "quantitative", "axis": null},
       "y": {"field": "y", "type": "quantitative", "axis": null},
       "text": {"field": "t"}
      }
     }
    ]
   }
  ],
  "spacing": 4.5,
  "resolve": {"scale": {"color": "independent", "stroke": "independent", "shape": "independent", "strokeDash": "independent"}, "legend": {"color": "independent", "stroke": "independent", "shape": "independent", "strokeDash": "independent"}}
 }
]
}
